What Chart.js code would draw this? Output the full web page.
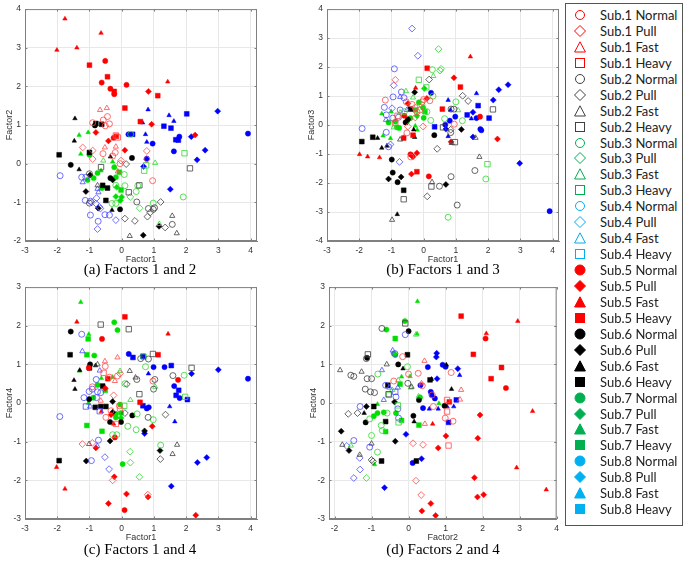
<!DOCTYPE html>
<html>
<head>
<meta charset="utf-8">
<script src="https://cdn.jsdelivr.net/npm/chart.js@4.4.1/dist/chart.umd.min.js"></script>
<style>
  body { margin: 0; background: #fff; width: 686px; height: 562px; position: relative; overflow: hidden; }
  .pane { position: absolute; }
  .cap { position: absolute; width: 220px; text-align: center; font: 15px "Liberation Serif", serif; color: #000; line-height: 18px; }
  #legend { position: absolute; left: 565px; top: 3px; width: 118px; height: 523px; border: 1px solid #555; box-sizing: border-box; }
  .row { position: absolute; left: 0; height: 16px; line-height: 16px; font: 13px Lato, sans-serif; color: #222; white-space: nowrap; }
  .row svg { position: absolute; left: 7px; top: 1px; }
  .row span { position: absolute; left: 34px; }
</style>
</head>
<body>
<div class="pane" style="left:0;top:0"><canvas id="chartA" width="262" height="265"></canvas></div>
<div class="pane" style="left:302px;top:0"><canvas id="chartB" width="262" height="265"></canvas></div>
<div class="pane" style="left:0;top:278px"><canvas id="chartC" width="262" height="265"></canvas></div>
<div class="pane" style="left:304px;top:278px"><canvas id="chartD" width="260" height="265"></canvas></div>
<div class="cap" style="left:30px;top:260px">(a) Factors 1 and 2</div>
<div class="cap" style="left:333px;top:260px">(b) Factors 1 and 3</div>
<div class="cap" style="left:30px;top:540px">(c) Factors 1 and 4</div>
<div class="cap" style="left:333px;top:540px">(d) Factors 2 and 4</div>
<div id="legend"></div>
<script>
// legend / category info
const SUBJECTS = ["Sub.1", "Sub.2", "Sub.3", "Sub.4", "Sub.5", "Sub.6", "Sub.7", "Sub.8"];
const COND_KEYS = ["N", "P", "F", "H"];
const COND_NAMES = ["Normal", "Pull", "Fast", "Heavy"];
const PLOT_COLORS = ["#ff4a4a", "#404040", "#30d830", "#4a4aff", "#ff0000", "#000000", "#00e000", "#0000ff"];
const LEGEND_COLORS = ["#ff0000", "#404040", "#00b050", "#00b0f0", "#ff0000", "#000000", "#00b050", "#00b0f0"];
const SHAPE = { N: "circle", P: "rectRot", F: "triangle", H: "rect" };

// (a) Factor1 vs Factor2  -- [x, y, condition]
const A1 = [[-0.67,1.39,"F"],[-0.46,1.44,"F"],[-0.52,0.42,"F"],[-0.18,0.44,"F"],[-0.12,-0.20,"F"],
  [-0.44,1.22,"N"],[-0.38,1.03,"N"],[-0.57,1.13,"N"],[-0.51,0.98,"N"],[-0.90,1.06,"N"],[-0.58,0.26,"N"],[-0.28,0.20,"N"],[-0.20,0.29,"N"],[-0.05,0.0,"N"],[0.96,-0.44,"N"],
  [-0.12,0.68,"H"],[-0.18,0.73,"H"],
  [-1.21,0.42,"P"],[-0.90,0.34,"P"],[-0.90,0.12,"P"],[0.78,0.33,"P"],[0.78,0.12,"P"],[-0.02,0.08,"P"]];
const A2 = [[0.14,-0.01,"P"],[0.10,-1.42,"P"],[0.41,-1.48,"P"],[1.21,-0.99,"P"],[0.89,-1.26,"P"],[0.80,-1.37,"P"],[1.35,-1.65,"P"],
  [-0.64,-0.09,"H"],[0.22,-0.74,"H"],[0.55,-0.56,"H"],[2.12,-0.12,"H"],
  [0.47,-0.99,"N"],[0.83,-1.16,"N"],[0.98,-1.18,"N"],[1.02,-1.14,"N"],[1.57,-1.57,"N"],[-1.0,-1.02,"N"],[-1.0,-0.26,"N"],
  [1.57,-1.35,"F"],[1.71,-1.80,"F"],[0.25,-1.87,"F"],[-0.75,-0.56,"F"]];
const A3 = [[0.08,-0.28,"N"],[-0.18,-0.56,"N"],[0.10,-0.57,"N"],[0.50,-0.57,"N"],[0.45,-0.72,"N"],[-0.30,-1.03,"N"],[-0.18,-1.03,"N"],[0.98,-1.02,"N"],[1.91,-0.86,"N"],[0.28,0.76,"N"],
  [1.95,0.27,"H"],[0.70,-0.18,"H"],[0.76,-0.04,"H"],
  [1.04,0.02,"F"],[-0.57,0.08,"F"],[1.17,-1.56,"F"],
  [0.27,-0.86,"P"],[0.56,-1.15,"P"]];
const A4 = [[-1.91,-0.31,"N"],[-1.24,-0.35,"N"],[-1.11,-0.35,"N"],[-1.13,-0.95,"N"],[-0.97,-0.97,"N"],[-0.97,-1.33,"N"],[-0.52,-1.32,"N"],[-0.38,-1.33,"N"],[-0.73,-1.49,"N"],
  [-1.21,-0.48,"F"],[-0.75,-0.65,"F"],[-0.72,-0.74,"F"],
  [-0.93,-1.0,"P"],[-0.78,-0.89,"P"],[-0.66,-1.16,"P"],[-0.18,-1.46,"P"],[-0.75,-1.69,"P"],[-0.80,-1.03,"P"],[-0.69,-1.12,"P"]];
const A5 = [[-2.01,2.94,"F"],[-1.76,3.75,"F"],[-1.39,3.0,"F"],[-0.64,3.38,"F"],[1.43,2.12,"F"],
  [-1.0,2.55,"H"],[-0.44,2.25,"H"],[-0.23,1.87,"H"],[1.12,1.76,"H"],[0.10,1.44,"H"],[0.58,1.09,"H"],[-0.16,0.71,"H"],
  [-0.51,2.66,"N"],[-0.62,2.10,"N"],[-0.35,1.94,"N"],[-0.23,1.80,"N"],[0.15,2.04,"N"],[-0.25,0.67,"N"],
  [0.83,1.87,"P"],[0.93,1.02,"P"],[-0.80,0.81,"P"],[-0.41,0.59,"P"],[0.10,0.35,"P"],[2.28,0.74,"P"]];
const A6 = [[-1.45,1.17,"F"],[-1.47,0.59,"F"],[-1.32,-0.15,"F"],[-0.35,0.18,"F"],[-0.30,-1.20,"F"],
  [-1.58,-0.03,"N"],[0.32,0.15,"N"],[-0.35,-0.37,"N"],[-0.05,-1.18,"N"],[-0.83,0.99,"N"],
  [-1.94,0.23,"H"],[-0.80,1.04,"H"],[-0.62,1.02,"H"],[-0.59,-0.56,"H"],[-0.49,-0.95,"H"],[-0.44,-0.63,"H"],[-1.0,0.29,"H"],
  [-1.11,-0.72,"P"],[-0.73,-1.15,"P"],[-0.28,-0.42,"P"],[1.16,-1.62,"P"],[0.67,-1.85,"P"],[-0.98,-0.29,"P"]];
const A7 = [[-1.32,0.74,"F"],[-1.04,0.81,"F"],[-1.27,0.25,"F"],[-0.64,-0.18,"F"],[-0.28,0.05,"F"],
  [-1.0,0.23,"N"],[-0.75,-0.24,"N"],[-0.87,-0.37,"N"],[-1.06,-0.42,"N"],[-0.61,-0.63,"N"],[-0.23,-0.09,"N"],[-0.18,-0.35,"N"],
  [-0.07,-0.22,"H"],[-0.02,-0.68,"H"],
  [-0.15,-0.61,"P"],[-0.18,-0.85,"P"],[-0.04,-0.95,"P"],[0.0,-0.86,"P"]];
const A8 = [[0.82,1.40,"F"],[1.47,1.25,"F"],[1.62,1.10,"F"],[0.74,0.76,"F"],[0.78,0.56,"F"],[0.65,1.06,"F"],
  [0.21,0.76,"N"],[0.96,0.52,"N"],[1.79,0.70,"N"],[1.62,0.32,"N"],[0.78,0.13,"N"],[3.92,0.78,"N"],
  [0.34,0.76,"H"],[1.31,0.97,"H"],[1.53,0.92,"H"],[2.02,1.29,"H"],[1.68,0.62,"H"],[1.76,0.61,"H"],
  [2.98,1.36,"P"],[2.16,0.70,"P"],[2.59,0.35,"P"],[2.34,0.10,"P"],[0.68,-0.07,"P"],[1.51,-0.66,"P"]];

// (b) Factor1 vs Factor3
const B1 = [[-0.88,1.56,"P"],[-0.26,0.26,"P"],[-0.02,-0.05,"P"],[-0.49,-0.05,"P"],
  [-1.19,0.86,"N"],[-0.54,0.80,"N"],[-0.36,0.71,"N"],[-0.26,0.60,"N"],[-0.21,0.46,"N"],[-0.12,0.52,"N"],[-0.05,0.80,"N"],[0.0,0.88,"N"],[-0.52,-0.27,"N"],[-0.40,-1.10,"N"],[0.95,0.03,"N"],[0.19,0.84,"N"],
  [-0.81,0.32,"H"],[-0.88,0.07,"H"]];
const B2 = [[0.17,1.57,"P"],[1.21,1.01,"P"],[1.38,0.83,"P"],[0.84,-0.16,"P"],[0.42,-0.82,"P"],[0.11,-2.46,"P"],
  [0.85,0.55,"N"],[0.94,0.55,"N"],[0.84,-0.26,"N"],[1.59,-1.57,"N"],[0.85,-1.78,"N"],[0.49,-2.11,"N"],[1.04,-2.76,"N"],
  [2.15,0.54,"H"],[0.60,-0.08,"H"],[0.97,-0.59,"H"],[0.24,-2.12,"H"],[-0.62,-2.56,"H"],
  [0.87,-0.62,"F"],[1.61,-0.44,"F"],[1.73,-1.10,"F"],[0.26,-1.97,"F"],[-0.98,-3.27,"F"],[-0.73,-0.50,"F"]];
const B3 = [[0.46,2.62,"P"],[0.54,1.94,"P"],[0.51,1.88,"P"],
  [0.27,1.91,"N"],[0.29,1.00,"N"],[-0.05,0.69,"N"],[0.10,0.46,"N"],[1.0,0.80,"N"],[1.20,0.15,"N"],[0.65,0.22,"N"],[0.22,0.16,"N"],[1.93,-1.86,"N"],[0.76,-3.18,"N"],[-0.60,0.46,"N"],
  [0.30,1.69,"F"],[-0.55,1.17,"F"],[-0.33,0.95,"F"],[1.07,0.51,"F"],[-0.93,-0.08,"F"],[-0.73,0.43,"F"],
  [-0.15,1.56,"H"],[0.08,1.30,"H"],[1.98,-1.35,"H"]];
const B4 = [[-0.36,3.33,"P"],[-0.18,2.39,"P"],[-0.93,1.37,"P"],[-0.98,0.58,"P"],[-1.03,-0.67,"P"],[-0.75,-1.27,"P"],
  [-0.91,1.94,"N"],[-0.69,1.14,"N"],[-0.95,0.97,"N"],[-0.61,0.94,"N"],[-1.22,0.61,"N"],[-0.73,0.52,"N"],[-1.16,0.35,"N"],[-0.96,0.24,"N"],[-0.78,0.27,"N"],[-1.91,-0.12,"N"],[-1.16,-0.25,"N"],[-1.09,-0.75,"N"],
  [-0.73,0.97,"F"],[-0.52,0.52,"F"],[-1.17,0.18,"F"]];
const B5 = [[-1.99,-1.01,"F"],[-1.74,-1.09,"F"],[-1.37,-1.12,"F"],[-0.25,1.28,"F"],[1.45,2.36,"F"],
  [0.11,1.96,"H"],[1.14,1.31,"H"],[0.58,0.55,"H"],[-0.62,-0.45,"H"],[-0.33,-0.35,"H"],[-0.21,-1.61,"H"],
  [0.94,1.63,"P"],[0.10,0.92,"P"],[-0.49,0.74,"P"],[-0.21,-0.96,"P"],[-0.33,-1.09,"P"],[-0.38,-1.69,"P"],[0.85,-0.58,"P"],[2.29,-0.48,"P"],
  [-0.60,0.32,"N"],[-0.41,-1.01,"N"],[0.16,-1.77,"N"],[1.75,0.29,"N"]];
const B6 = [[-1.92,-0.57,"H"],[-1.58,-0.42,"H"],[-0.62,-2.25,"H"],[-0.41,0.55,"H"],
  [-1.43,-0.45,"F"],[-1.30,-0.79,"F"],[-1.14,-0.72,"F"],[-0.82,-3.08,"F"],[-0.31,-0.16,"F"],[-0.28,-0.42,"F"],
  [-0.99,-1.19,"N"],[-0.96,-1.64,"N"],[-0.81,-1.97,"N"],[-0.56,0.09,"N"],[-0.49,0.20,"N"],[0.33,-0.35,"N"],
  [-1.09,-1.86,"P"],[-0.70,-1.79,"P"],[-0.28,1.13,"P"],[-0.36,-1.06,"P"],[1.17,-0.15,"P"],[0.69,-2.05,"P"]];
const B7 = [[-1.30,0.39,"F"],[-1.01,0.46,"F"],[-1.03,-0.46,"F"],[-1.26,-0.37,"F"],[-0.62,-0.42,"F"],[-0.26,-0.03,"F"],[-0.20,-0.17,"F"],
  [-1.09,0.09,"N"],[-0.88,0.12,"N"],[-0.83,-0.08,"N"],[-0.76,-0.10,"N"],[-0.41,0.24,"N"],[-0.15,0.78,"N"],[-0.02,0.60,"N"],[0.0,0.25,"N"],[-0.52,0.12,"N"],
  [0.02,1.26,"P"],[-0.21,0.32,"P"],
  [0.04,0.46,"H"],[-0.25,0.52,"H"]];
const B8 = [[0.23,1.11,"N"],[0.81,0.15,"N"],[0.67,0.01,"N"],[0.98,0.29,"N"],[1.64,0.24,"N"],[1.76,-0.14,"N"],[1.79,-0.18,"N"],[3.91,-2.97,"N"],
  [0.76,0.86,"F"],[0.83,0.52,"F"],[0.76,-0.39,"F"],[1.64,1.09,"F"],[1.48,0.22,"F"],
  [0.34,-0.06,"H"],[1.35,0.35,"H"],[1.69,0.67,"H"],[2.03,0.24,"H"],
  [0.69,-0.14,"P"],[1.53,0.44,"P"],[2.16,0.86,"P"],[2.33,1.22,"P"],[2.62,1.39,"P"],[1.53,-0.41,"P"],[2.98,-1.32,"P"]];

// (c) Factor1 vs Factor4
const C1 = [[-0.52,1.08,"F"],[-0.13,1.18,"F"],[-0.21,0.57,"F"],[-0.65,0.06,"F"],
  [-0.51,0.95,"N"],[-0.38,0.67,"N"],[-0.91,0.42,"N"],[-0.13,0.70,"N"],[-0.49,-0.37,"N"],[-0.33,-0.20,"N"],[-0.05,-0.15,"N"],[-0.07,-0.07,"N"],[0.97,0.57,"N"],
  [-0.56,0.78,"H"],[-0.18,-0.54,"H"],
  [-0.05,0.76,"P"],[-0.25,0.20,"P"],[-1.22,-1.06,"P"],[-0.91,-1.03,"P"],[-0.28,-2.0,"P"],[0.81,-2.37,"P"]];
const C2 = [[-0.65,2.03,"H"],[0.22,1.91,"H"],[0.55,0.23,"H"],[0.97,1.27,"H"],[2.17,0.91,"H"],
  [-0.75,1.0,"F"],[0.25,0.83,"F"],[0.43,0.66,"F"],[1.72,-1.08,"F"],[1.58,-1.32,"F"],[-1.01,-1.06,"F"],
  [0.47,0.61,"N"],[0.59,1.15,"N"],[0.83,1.14,"N"],[1.59,0.71,"N"],[0.99,0.36,"N"],[1.03,0.61,"N"],[0.82,-0.37,"N"],
  [0.16,0.49,"P"],[0.10,-0.26,"P"],[1.36,-0.30,"P"],[1.20,-1.45,"P"]];
const C3 = [[-0.05,0.83,"F"],[0.27,0.08,"F"],[1.04,0.42,"F"],
  [0.48,-0.28,"N"],[0.19,-0.60,"N"],[0.45,-0.69,"N"],[0.98,-0.43,"N"],[0.74,0.94,"N"],[1.94,0.72,"N"],[0.10,0.50,"N"],[-0.28,-0.82,"N"],[-0.15,-0.82,"N"],[1.21,-1.09,"N"],
  [0.68,1.20,"H"],[1.97,0.16,"H"],[0.08,-0.07,"H"],
  [0.26,-1.26,"P"],[0.27,-1.54,"P"],[0.55,-1.91,"P"]];
const C4 = [[-1.24,1.78,"N"],[-1.92,-0.35,"N"],[-0.79,0.61,"N"],[-0.91,0.36,"N"],[-1.01,0.30,"N"],[-0.75,0.29,"N"],[-0.65,0.27,"N"],[-1.17,0.14,"N"],[-0.72,-0.96,"N"],[-0.94,-1.49,"N"],[-0.78,0.14,"N"],
  [-1.22,1.34,"F"],[-0.68,0.84,"F"],[-0.98,-0.09,"F"],[-0.76,-1.11,"F"],
  [-1.11,-0.09,"H"],[-0.68,-0.21,"H"],
  [-0.52,-1.40,"P"],[-0.39,-1.71,"P"]];
const C5 = [[-1.39,2.10,"F"],[1.44,1.79,"F"],[-2.02,-1.66,"F"],[-1.76,-2.22,"F"],[-0.63,-0.22,"F"],[-0.25,-0.54,"F"],
  [0.10,2.23,"H"],[1.13,1.25,"H"],[-0.43,0.63,"H"],[0.57,0.02,"H"],
  [-0.61,1.66,"N"],[-1.02,0.91,"N"],[-0.21,-0.89,"N"],[1.75,0.60,"N"],[0.09,-2.77,"N"],
  [-0.51,0.38,"P"],[-0.33,-0.30,"P"],[0.95,-0.60,"P"],[-0.80,-1.16,"P"],[-0.23,-1.91,"P"],[-0.41,-2.60,"P"],[0.15,-2.35,"P"],[0.82,-2.43,"P"],[2.30,-2.90,"P"]];
const C6 = [[-1.58,1.85,"N"],[-0.98,1.0,"N"],[-1.01,0.10,"N"],[-0.36,-0.49,"N"],[-0.02,-0.49,"N"],[0.33,-0.32,"N"],
  [-1.60,1.25,"H"],[-1.0,0.91,"H"],[-0.59,0.44,"H"],[-0.82,-0.11,"H"],[-0.65,-0.09,"H"],[-0.49,-0.09,"H"],[-1.94,-1.49,"H"],
  [-1.30,0.85,"F"],[-1.48,0.59,"F"],[-1.45,0.36,"F"],[-0.81,0.97,"F"],
  [-0.28,-0.24,"P"],[-0.28,0.04,"P"],[0.71,-0.72,"P"],[-0.36,-0.98,"P"],[1.19,-1.23,"P"],[-1.10,-1.50,"P"]];
const C7 = [[-1.27,2.61,"F"],[-1.02,1.78,"F"],[-1.31,0.83,"F"],[-0.63,0.64,"F"],[-0.28,0.67,"F"],[-1.03,0.0,"F"],
  [-0.23,2.09,"N"],[-0.13,1.89,"N"],[-0.85,1.23,"N"],[-0.88,0.14,"N"],[-0.75,0.47,"N"],[-0.05,-0.04,"N"],[-0.18,-0.28,"N"],[-0.18,-0.37,"N"],[-0.02,-0.26,"N"],[0.03,-1.58,"N"],
  [-1.04,1.66,"H"],[-1.08,1.25,"H"],[-1.08,-0.58,"H"],[-0.61,-0.73,"H"],[-0.51,0.33,"H"],
  [-0.02,-0.39,"P"]];
const C8 = [[0.22,1.27,"N"],[0.99,0.93,"N"],[1.33,0.93,"N"],[3.92,0.63,"N"],[1.63,0.44,"N"],[1.80,0.13,"N"],[0.78,-0.14,"N"],[0.84,-0.11,"N"],
  [0.35,1.18,"H"],[0.66,1.21,"H"],[1.54,0.97,"H"],[1.77,0.33,"H"],[1.69,0.20,"H"],[2.04,0.09,"H"],[0.66,-0.07,"H"],
  [2.17,0.76,"P"],[3.0,0.86,"P"],[0.71,-0.79,"P"],[2.35,-1.54,"P"],[2.64,-1.41,"P"],[1.54,-2.15,"P"],
  [0.83,0.76,"F"],[1.49,-0.09,"F"],[1.65,-0.48,"F"]];

// (d) Factor2 vs Factor4
const D1 = [[0.43,1.09,"F"],[0.35,0.51,"F"],[1.42,0.34,"F"],[1.39,0.09,"F"],[0.44,-0.54,"F"],
  [-0.16,1.20,"N"],[0.0,0.75,"N"],[0.26,0.77,"N"],[-0.40,0.57,"N"],[0.37,0.45,"N"],[0.64,0.21,"N"],[1.15,0.79,"N"],[0.67,-0.09,"N"],[0.99,-0.39,"N"],[1.20,-0.47,"N"],
  [1.04,-0.22,"H"],[1.08,-1.10,"H"],[1.04,0.08,"H"],
  [0.12,-1.04,"P"],[0.39,-1.08,"P"],[0.20,-2.01,"P"],[0.34,-2.38,"P"]];
const D2 = [[-0.72,1.93,"N"],[-1.14,1.15,"N"],[-1.56,0.72,"N"],[-1.48,0.69,"N"],[-1.12,0.63,"N"],[-1.0,0.63,"N"],[-1.17,0.36,"N"],[-1.03,0.29,"N"],[-0.92,0.27,"N"],[-0.02,0.51,"N"],
  [-0.09,2.06,"H"],[-1.10,1.26,"H"],[-0.54,0.23,"H"],
  [-1.85,0.85,"F"],[-1.27,0.81,"F"],[-0.59,1.0,"F"],[0.08,0.42,"F"],[-1.79,-1.08,"F"],[-1.0,-1.05,"F"],[-1.32,-1.34,"F"],
  [-1.38,-0.26,"P"],[-1.63,-0.28,"P"],[-1.0,-1.47,"P"],[-0.96,-1.51,"P"]];
const D3 = [[0.20,1.77,"F"],[-0.28,0.59,"F"],[0.06,0.40,"F"],[0.27,0.17,"F"],[-1.56,-1.10,"F"],[-0.44,0.34,"F"],
  [-0.83,0.75,"N"],[-0.03,0.94,"N"],[-0.58,-0.26,"N"],[-1.05,-0.41,"N"],[-1.0,-0.84,"N"],[-0.74,-0.58,"N"],[-0.71,-0.71,"N"],[-0.84,-1.27,"N"],
  [-0.29,-0.06,"H"],[-0.27,-0.50,"H"],[-0.53,0.21,"H"],
  [-1.14,-1.94,"P"]];
const D4 = [[-0.09,1.77,"N"],[-0.37,1.28,"N"],[-0.62,0.46,"N"],[-0.34,0.16,"N"],[-0.29,-0.15,"N"],[-0.27,-0.39,"N"],[-1.31,-0.09,"N"],[-1.48,-0.97,"N"],[-1.05,-1.14,"N"],
  [-0.72,0.85,"F"],[-0.43,1.36,"F"],[-0.67,0.08,"F"],[-0.52,0.40,"F"],[-0.29,0.40,"F"],
  [-0.36,0.29,"H"],
  [-1.67,-1.11,"P"],[-1.32,-1.42,"P"],[-1.31,-1.72,"P"],[-1.48,-1.94,"P"]];
const D5 = [[2.95,2.12,"F"],[2.10,1.80,"F"],[3.35,-0.21,"F"],[2.92,-1.67,"F"],[3.72,-2.24,"F"],[0.65,-0.54,"F"],
  [1.42,2.25,"H"],[1.75,1.26,"H"],[2.51,0.92,"H"],[2.23,0.63,"H"],[1.10,0.03,"H"],
  [2.08,1.67,"N"],[2.63,0.39,"N"],
  [1.93,-0.31,"P"],[1.87,-0.91,"P"],[1.78,-1.93,"P"],[1.86,-2.43,"P"],[2.03,-2.37,"P"],[1.01,-0.85,"P"],[0.80,-1.16,"P"],[0.36,-2.79,"P"],[0.60,-2.60,"P"],[0.73,-2.91,"P"]];
const D6 = [[0.0,1.86,"N"],[-1.12,1.17,"N"],[-0.28,1.0,"N"],[0.28,0.08,"N"],[-1.16,-0.50,"N"],[0.13,-0.33,"N"],[0.97,-0.07,"N"],
  [-0.03,1.25,"H"],[-0.56,0.46,"H"],[-0.94,-0.09,"H"],[-0.62,-0.48,"H"],[0.58,0.60,"H"],[-0.73,-1.50,"H"],[0.21,-1.50,"H"],
  [-0.15,0.89,"F"],[-1.20,-0.26,"F"],[0.15,-0.48,"F"],[0.62,0.62,"F"],[1.02,0.99,"F"],[1.16,0.36,"F"],
  [-0.38,0.03,"P"],[-1.14,-0.09,"P"],[-0.36,-0.99,"P"],[-1.82,-0.73,"P"],[-1.61,-1.23,"P"]];
const D7 = [[0.24,2.63,"F"],[0.23,1.79,"F"],[-0.19,0.68,"F"],[0.04,0.69,"F"],[0.82,-0.01,"F"],[-0.84,-0.03,"F"],[-0.92,-1.59,"F"],
  [-0.10,2.12,"N"],[-0.60,1.90,"N"],[-0.40,1.28,"N"],[-0.36,1.24,"N"],[0.31,0.15,"N"],[-0.84,-0.26,"N"],[-0.94,-0.34,"N"],[-0.67,-0.24,"N"],[-0.34,-0.26,"N"],
  [-0.36,1.67,"H"],[-0.23,0.49,"H"],[-0.19,-0.45,"H"],[0.28,-0.57,"H"],[-0.62,-0.74,"H"]];
const D8 = [[0.76,1.29,"P"],[0.75,1.19,"P"],[1.33,0.89,"P"],[0.77,0.63,"P"],[-0.07,-0.81,"P"],[0.35,-1.44,"P"],[-0.65,-2.19,"P"],
  [0.52,0.93,"N"],[0.92,0.99,"N"],[1.0,0.94,"N"],[0.32,0.46,"N"],[0.60,0.29,"N"],[0.62,0.21,"N"],[0.71,0.12,"N"],[0.39,-0.13,"N"],[0.11,-1.55,"N"],
  [1.38,0.72,"F"],[0.56,-0.15,"F"],[0.80,-0.15,"F"],[1.04,-0.09,"F"],[1.22,-0.09,"F"],
  [1.29,0.08,"H"],[1.08,-0.50,"H"]];

// closed box around the axes with small inward ticks (MATLAB style)
const frame = {
  id: "frame",
  afterDraw(chart) {
    const a = chart.chartArea, g = chart.ctx;
    const xs = chart.scales.x, ys = chart.scales.y;
    g.save();
    g.strokeStyle = "#808080";
    g.lineWidth = 1;
    g.strokeRect(a.left + 0.5, a.top + 0.5, a.right - a.left - 1, a.bottom - a.top - 1);
    g.beginPath();
    xs.ticks.forEach(t => {
      const px = Math.round(xs.getPixelForValue(t.value)) + 0.5;
      g.moveTo(px, a.bottom); g.lineTo(px, a.bottom - 2.5);
      g.moveTo(px, a.top); g.lineTo(px, a.top + 2.5);
    });
    ys.ticks.forEach(t => {
      const py = Math.round(ys.getPixelForValue(t.value)) + 0.5;
      g.moveTo(a.left, py); g.lineTo(a.left + 2.5, py);
      g.moveTo(a.right, py); g.lineTo(a.right - 2.5, py);
    });
    g.stroke();
    g.restore();
  }
};

function makeDatasets(groups) {
  return groups.map((pts, i) => {
    const col = PLOT_COLORS[i];
    const filled = i >= 4;
    return {
      label: SUBJECTS[i],
      data: pts.map(p => ({ x: p[0], y: p[1], c: p[2] })),
      pointStyle: ctx => (ctx.raw ? SHAPE[ctx.raw.c] : "circle"),
      pointRadius: ctx => {
        const c = ctx.raw ? ctx.raw.c : "N";
        if (c === "H") return filled ? 3.4 : 3.8;
        if (c === "P") return filled ? 3 : 3.4;
        return filled ? 2.6 : 3;
      },
      borderColor: col,
      backgroundColor: filled ? col : "rgba(0,0,0,0)",
      borderWidth: filled ? 0.5 : 0.8
    };
  });
}

function axis(min, max, title, isX) {
  return {
    type: "linear",
    min: min,
    max: max,
    ticks: {
      stepSize: 1,
      includeBounds: false,
      color: "#333",
      padding: isX ? 5 : 4,
      maxRotation: 0,
      font: { family: "Liberation Sans", size: 8.5 }
    },
    grid: { color: "#e8e8e8", drawTicks: false },
    border: { color: "#808080" },
    title: { display: true, text: title, color: "#333", padding: 0, font: { family: "Liberation Sans", size: 9 } },
    afterFit: isX ? (s => { s.height = 24; }) : (s => { s.width = 21; })
  };
}

function scatter(id, groups, xr, yr, xTitle, yTitle) {
  new Chart(document.getElementById(id), {
    type: "scatter",
    data: { datasets: makeDatasets(groups) },
    options: {
      responsive: false,
      animation: false,
      events: [],
      layout: { padding: { left: 4, top: 7, right: 5, bottom: 0 } },
      plugins: { legend: { display: false }, tooltip: { enabled: false } },
      scales: {
        x: axis(xr[0], xr[1], xTitle, true),
        y: axis(yr[0], yr[1], yTitle, false)
      }
    },
    plugins: [frame]
  });
}

scatter("chartA", [A1, A2, A3, A4, A5, A6, A7, A8], [-3, 4.2], [-2, 4], "Factor1", "Factor2");
scatter("chartB", [B1, B2, B3, B4, B5, B6, B7, B8], [-3, 4.2], [-4, 4], "Factor1", "Factor3");
scatter("chartC", [C1, C2, C3, C4, C5, C6, C7, C8], [-3, 4.2], [-3, 3], "Factor1", "Factor4");
scatter("chartD", [D1, D2, D3, D4, D5, D6, D7, D8], [-2.15, 4.0], [-3, 3], "Factor2", "Factor4");

// legend: one row per subject/condition
function symbol(cond, color, filled) {
  const fill = filled ? color : "none";
  const st = 'stroke="' + color + '" stroke-width="1" fill="' + fill + '"';
  if (cond === "N") return '<circle cx="7" cy="7" r="' + (filled ? 5 : 4.5) + '" ' + st + '/>';
  if (cond === "P") return '<polygon points="7,1.5 12.5,7 7,12.5 1.5,7" ' + st + '/>';
  if (cond === "F") return '<polygon points="7,1.8 12.4,12 1.6,12" ' + st + '/>';
  return '<rect x="2.5" y="2.5" width="9" height="9" ' + st + '/>';
}

const legend = document.getElementById("legend");
SUBJECTS.forEach((sub, si) => {
  COND_KEYS.forEach((ck, ci) => {
    const i = si * 4 + ci;
    const row = document.createElement("div");
    row.className = "row";
    row.style.top = (15 + i * 15.94 - 3 - 1 - 8) + "px";
    row.style.width = "116px";
    row.innerHTML = '<svg width="14" height="14" viewBox="0 0 14 14">' +
      symbol(ck, LEGEND_COLORS[si], si >= 4) + '</svg><span>' + sub + " " + COND_NAMES[ci] + "</span>";
    legend.appendChild(row);
  });
});
</script>
</body>
</html>
